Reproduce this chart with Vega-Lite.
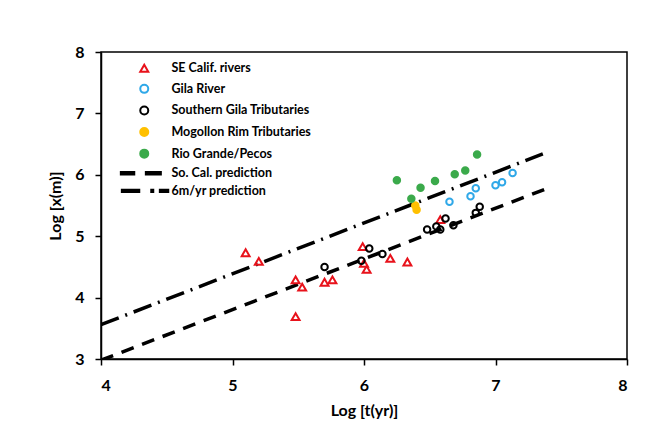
{
  "$schema": "https://vega.github.io/schema/vega-lite/v6.json",
  "width": 526,
  "height": 307,
  "autosize": "none",
  "padding": {"left": 101, "top": 52, "right": 28, "bottom": 62},
  "background": "white",
  "config": {
    "font": "Lato",
    "view": {"stroke": "black", "strokeWidth": 1.5},
    "axis": {
      "grid": false,
      "domainColor": "black",
      "domainWidth": 1.5,
      "tickColor": "black",
      "tickWidth": 1.5,
      "tickSize": 6,
      "format": "d",
      "labelFont": "Lato",
      "labelFontSize": 16,
      "labelFontWeight": "bold",
      "labelColor": "black",
      "titleFont": "Lato",
      "titleFontSize": 16,
      "titleFontWeight": "bold",
      "titleColor": "black"
    }
  },
  "datasets": {
    "points": [
      {"series": "SE Calif. rivers", "logt": 5.10, "logx": 4.73},
      {"series": "SE Calif. rivers", "logt": 5.20, "logx": 4.59},
      {"series": "SE Calif. rivers", "logt": 5.48, "logx": 4.29},
      {"series": "SE Calif. rivers", "logt": 5.53, "logx": 4.17},
      {"series": "SE Calif. rivers", "logt": 5.48, "logx": 3.69},
      {"series": "SE Calif. rivers", "logt": 5.70, "logx": 4.25},
      {"series": "SE Calif. rivers", "logt": 5.76, "logx": 4.29},
      {"series": "SE Calif. rivers", "logt": 5.99, "logx": 4.83},
      {"series": "SE Calif. rivers", "logt": 6.00, "logx": 4.56},
      {"series": "SE Calif. rivers", "logt": 6.02, "logx": 4.46},
      {"series": "SE Calif. rivers", "logt": 6.20, "logx": 4.64},
      {"series": "SE Calif. rivers", "logt": 6.33, "logx": 4.58},
      {"series": "SE Calif. rivers", "logt": 6.58, "logx": 5.27},
      {"series": "Gila River", "logt": 6.65, "logx": 5.56},
      {"series": "Gila River", "logt": 6.81, "logx": 5.65},
      {"series": "Gila River", "logt": 6.85, "logx": 5.78},
      {"series": "Gila River", "logt": 7.00, "logx": 5.83},
      {"series": "Gila River", "logt": 7.05, "logx": 5.88},
      {"series": "Gila River", "logt": 7.13, "logx": 6.03},
      {"series": "Southern Gila Tributaries", "logt": 5.70, "logx": 4.50},
      {"series": "Southern Gila Tributaries", "logt": 5.98, "logx": 4.60},
      {"series": "Southern Gila Tributaries", "logt": 6.04, "logx": 4.80},
      {"series": "Southern Gila Tributaries", "logt": 6.14, "logx": 4.71},
      {"series": "Southern Gila Tributaries", "logt": 6.48, "logx": 5.11},
      {"series": "Southern Gila Tributaries", "logt": 6.55, "logx": 5.16},
      {"series": "Southern Gila Tributaries", "logt": 6.58, "logx": 5.11},
      {"series": "Southern Gila Tributaries", "logt": 6.62, "logx": 5.29},
      {"series": "Southern Gila Tributaries", "logt": 6.68, "logx": 5.18},
      {"series": "Southern Gila Tributaries", "logt": 6.85, "logx": 5.38},
      {"series": "Southern Gila Tributaries", "logt": 6.88, "logx": 5.48},
      {"series": "Mogollon Rim Tributaries", "logt": 6.39, "logx": 5.50},
      {"series": "Mogollon Rim Tributaries", "logt": 6.40, "logx": 5.43},
      {"series": "Rio Grande/Pecos", "logt": 6.25, "logx": 5.91},
      {"series": "Rio Grande/Pecos", "logt": 6.36, "logx": 5.61},
      {"series": "Rio Grande/Pecos", "logt": 6.43, "logx": 5.79},
      {"series": "Rio Grande/Pecos", "logt": 6.54, "logx": 5.90},
      {"series": "Rio Grande/Pecos", "logt": 6.69, "logx": 6.01},
      {"series": "Rio Grande/Pecos", "logt": 6.77, "logx": 6.07},
      {"series": "Rio Grande/Pecos", "logt": 6.86, "logx": 6.33}
    ],
    "lines": [
      {"series": "So. Cal. prediction", "logt": 4.0, "logx": 2.98},
      {"series": "So. Cal. prediction", "logt": 7.37, "logx": 5.76},
      {"series": "6m/yr prediction", "logt": 4.0, "logx": 3.56},
      {"series": "6m/yr prediction", "logt": 7.36, "logx": 6.34}
    ]
  },
  "layer": [
    {
      "data": {"name": "lines"},
      "mark": {"type": "line", "clip": true, "strokeWidth": 3.5, "color": "black"},
      "encoding": {
        "x": {"field": "logt", "type": "quantitative"},
        "y": {"field": "logx", "type": "quantitative"},
        "detail": {"field": "series"},
        "strokeDash": {
          "field": "series",
          "type": "nominal",
          "scale": {"domain": ["So. Cal. prediction", "6m/yr prediction"], "range": [[13, 9], [19, 7, 2, 7]]},
          "legend": null
        }
      }
    },
    {
      "data": {"name": "points"},
      "mark": {"type": "point", "strokeWidth": 2, "opacity": 1, "filled": false},
      "encoding": {
        "x": {
          "field": "logt", "type": "quantitative",
          "scale": {"domain": [4, 8], "nice": false, "zero": false},
          "axis": {"values": [4, 5, 6, 7, 8], "title": "Log [t(yr)]", "labelPadding": 12, "titlePadding": 9}
        },
        "y": {
          "field": "logx", "type": "quantitative",
          "scale": {"domain": [3, 8], "nice": false, "zero": false},
          "axis": {"values": [3, 4, 5, 6, 7, 8], "title": "Log [x(m)]", "labelPadding": 11, "titlePadding": 11}
        },
        "size": {"condition": {"test": "datum.series == 'SE Calif. rivers'", "value": 62}, "value": 42},
        "shape": {
          "field": "series", "type": "nominal",
          "scale": {
            "domain": ["SE Calif. rivers", "Gila River", "Southern Gila Tributaries", "Mogollon Rim Tributaries", "Rio Grande/Pecos", "So. Cal. prediction", "6m/yr prediction"],
            "range": ["triangle-up", "circle", "circle", "circle", "circle",
              "M-5.85,-0.3H-2.5V0.3H-5.85ZM0.4,-0.3H4.15V0.3H0.4Z",
              "M-5.6,-0.3H-1.25V0.3H-5.6ZM1.75,-0.3H2.25V0.3H1.75ZM3.9,-0.3H6.0V0.3H3.9Z"]
          },
          "legend": {
            "title": null, "orient": "none", "legendX": 37, "legendY": 10, "padding": 0,
            "labelFont": "Lato", "labelFontSize": 12.5, "labelFontWeight": "bold", "labelColor": "black",
            "symbolSize": 64, "symbolStrokeWidth": 2, "labelOffset": 21, "rowPadding": 4.6
          }
        },
        "fill": {
          "field": "series", "type": "nominal",
          "scale": {
            "domain": ["SE Calif. rivers", "Gila River", "Southern Gila Tributaries", "Mogollon Rim Tributaries", "Rio Grande/Pecos", "So. Cal. prediction", "6m/yr prediction"],
            "range": ["transparent", "transparent", "transparent", "#FFC000", "#3BAA4B", "black", "black"]
          },
          "legend": {
            "title": null, "orient": "none", "legendX": 37, "legendY": 10, "padding": 0,
            "labelFont": "Lato", "labelFontSize": 12.5, "labelFontWeight": "bold", "labelColor": "black",
            "symbolSize": 64, "symbolStrokeWidth": 2, "labelOffset": 21, "rowPadding": 4.6
          }
        },
        "stroke": {
          "field": "series", "type": "nominal",
          "scale": {
            "domain": ["SE Calif. rivers", "Gila River", "Southern Gila Tributaries", "Mogollon Rim Tributaries", "Rio Grande/Pecos", "So. Cal. prediction", "6m/yr prediction"],
            "range": ["#E8121B", "#2FA8E8", "black", "#FFC000", "#3BAA4B", "black", "black"]
          },
          "legend": {
            "title": null, "orient": "none", "legendX": 37, "legendY": 10, "padding": 0,
            "labelFont": "Lato", "labelFontSize": 12.5, "labelFontWeight": "bold", "labelColor": "black",
            "symbolSize": 64, "symbolStrokeWidth": 2, "labelOffset": 21, "rowPadding": 4.6
          }
        }
      }
    }
  ]
}
